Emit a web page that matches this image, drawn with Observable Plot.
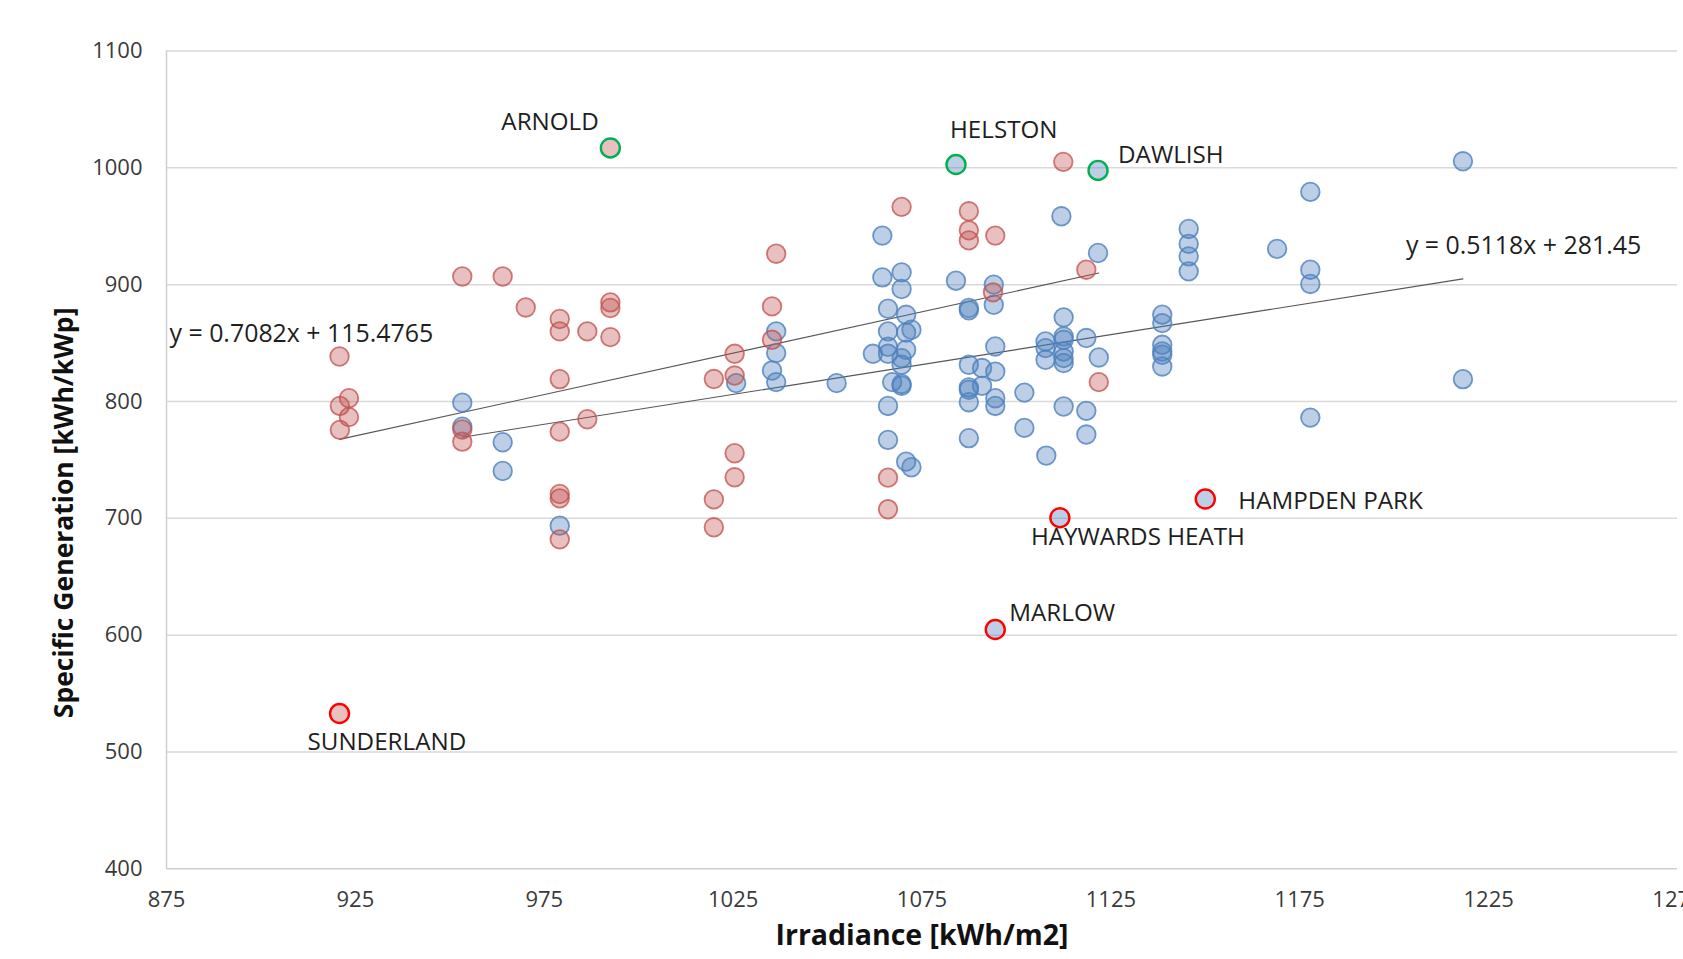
<!DOCTYPE html>
<html>
<head>
<meta charset="utf-8">
<script src="https://cdn.jsdelivr.net/npm/d3@7"></script>
<script src="https://cdn.jsdelivr.net/npm/@observablehq/plot@0.6"></script>
<style>
  html, body { margin: 0; padding: 0; background: #ffffff; overflow: hidden; }
  #chart svg { display: block; }
</style>
</head>
<body>
<div id="chart"></div>
<script>
// ---- Data ----
const xTicks = [875, 925, 975, 1025, 1075, 1125, 1175, 1225, 1275];
const yTicks = [400, 500, 600, 700, 800, 900, 1000, 1100];

// Red series: irradiance / specific generation
const redIrr = [953.3, 964, 970.1, 979.1, 979.1, 986.4, 992.5, 992.5, 992.5, 920.8,
  923.3, 920.9, 923.3, 920.9, 953.3, 953.3, 979.1, 986.4, 979.1, 979.1,
  979.1, 979.1, 1019.9, 1019.9, 1019.9, 1069.6, 1087.4, 1087.4, 1087.4, 1094.4,
  1112.4, 1036.4, 1118.5, 1093.8, 1035.3, 1035.3, 1025.4, 1025.4, 1066, 1066,
  1025.4, 1025.4, 1121.8];
const redGen = [907, 907, 880.5, 870.6, 860, 860, 884.8, 880, 855.1, 838.5,
  802.8, 796.2, 786.6, 775.7, 776, 765.6, 819.1, 784.8, 774.2, 720.8,
  717.1, 682, 819.2, 716.2, 692.3, 966.6, 962.8, 946.5, 937.9, 942,
  1005.1, 926.5, 912.8, 893.4, 881.4, 852.8, 840.8, 822.2, 734.8, 707.7,
  755.7, 735.1, 816.6];

// Blue series
const blueIrr = [953.3, 953.3, 964, 964, 979.1, 1111.9, 1064.5, 1121.6, 1064.5, 1069.6,
  1069.6, 1084, 1094, 1094, 1087.4, 1087.4, 1036.4, 1036.4, 1035.3, 1036.4,
  1025.8, 1052.4, 1066, 1070.8, 1066, 1070.8, 1072.2, 1062, 1066, 1066,
  1070.8, 1069.6, 1069.6, 1067.1, 1069.6, 1069.6, 1066, 1066, 1070.8, 1072.2,
  1087.4, 1090.9, 1094.4, 1094.4, 1087.4, 1087.4, 1090.9, 1087.4, 1094.4, 1094.4,
  1087.4, 1102.1, 1102.1, 1107.9, 1107.7, 1107.7, 1107.7, 1112.5, 1112.5, 1112.5,
  1112.5, 1112.5, 1112.5, 1118.5, 1121.8, 1112.5, 1118.5, 1118.5, 1145.6, 1145.6,
  1145.6, 1145.6, 1138.6, 1138.6, 1138.6, 1138.6, 1138.6, 1138.6, 1169, 1177.8,
  1177.8, 1177.8, 1177.8, 1218.2, 1218.2];
const blueGen = [799, 778.5, 765.1, 740.5, 693.7, 958.5, 942, 927.1, 906.2, 910.5,
  896.3, 903.4, 900, 882.8, 880, 878, 860, 841.4, 826.5, 816.6,
  815.7, 815.7, 879.4, 874.2, 860, 859.1, 861.4, 840.8, 846.8, 840.8,
  844.3, 837.1, 831.4, 816.6, 815, 813.5, 796.2, 767.1, 748.5, 743.7,
  831.4, 828.6, 825.6, 847.1, 812, 810, 813.4, 799.4, 802.8, 796.2,
  768.6, 807.6, 777.4, 753.7, 851.4, 845.7, 835.7, 872, 855.6, 852.8,
  842.8, 837.1, 832.9, 854.3, 837.7, 795.7, 792, 771.7, 947.7, 934.9,
  924.2, 911.4, 874.3, 867.1, 848.5, 842.8, 840, 830, 930.6, 979.4,
  912.8, 900.6, 786.2, 1005.6, 819.1];

// Named sites (highlighted points)
const siteNames = ["ARNOLD", "HELSTON", "DAWLISH", "HAMPDEN PARK", "HAYWARDS HEATH", "MARLOW", "SUNDERLAND"];
const siteIrr = [992.5, 1084, 1121.6, 1150, 1111.5, 1094.4, 920.8];
const siteGen = [1017, 1002.8, 997.8, 716.5, 700.5, 604.8, 532.9];
const siteSeries = ["red", "blue", "blue", "blue", "blue", "blue", "red"];
const siteFlag = ["high", "high", "high", "low", "low", "low", "low"];

// Trend lines (as printed on the chart)
const trendSeries = ["red", "blue"];
const trendSlope = [0.7082, 0.5118];
const trendIntercept = [115.4765, 281.45];
const trendText = ["y = 0.7082x + 115.4765", "y = 0.5118x + 281.45"];

const xTitle = "Irradiance [kWh/m2]";
const yTitle = "Specific Generation [kWh/kWp]";

// ---- Build tables ----
const seriesColor = {red: "#c0504d", blue: "#4f81bd"};
const seriesFillOpacity = {red: 0.36, blue: 0.38};
const flagColor = {high: "#00b050", low: "#ff0000"};
const red = redIrr.map((x, i) => ({x, y: redGen[i]}));
const blue = blueIrr.map((x, i) => ({x, y: blueGen[i]}));
const sites = siteNames.map((name, i) => ({name, x: siteIrr[i], y: siteGen[i], series: siteSeries[i], flag: siteFlag[i]}));

const allBySeries = {
  red: redIrr.concat(siteIrr.filter((_, i) => siteSeries[i] === "red")),
  blue: blueIrr.concat(siteIrr.filter((_, i) => siteSeries[i] === "blue"))
};
const trends = trendSeries.map((s, i) => {
  const x0 = d3.min(allBySeries[s]), x1 = d3.max(allBySeries[s]);
  return [
    {x: x0, y: trendSlope[i] * x0 + trendIntercept[i], k: s},
    {x: x1, y: trendSlope[i] * x1 + trendIntercept[i], k: s}
  ];
});

// label offsets (styling, pixels)
const labelOffset = {
  "ARNOLD": [-109, -26],
  "HELSTON": [-6, -34],
  "DAWLISH": [20, -15],
  "HAMPDEN PARK": [33, 2],
  "HAYWARDS HEATH": [-29, 20],
  "MARLOW": [14, -16],
  "SUNDERLAND": [-32, 29]
};

const labelColor = "#1e1e1e";

const siteLabelMarks = sites.map(s => Plot.text([s], {
  x: "x", y: "y", text: "name",
  dx: labelOffset[s.name][0], dy: labelOffset[s.name][1],
  textAnchor: "start", fontSize: 24.2, fill: labelColor
}));

const chart = Plot.plot({
  width: 1683,
  height: 959,
  marginLeft: 166,
  marginRight: 6,
  marginTop: 50.5,
  marginBottom: 90.7,
  style: {fontFamily: "'Open Sans', sans-serif", fontSize: "22px", color: "#3a3a3a", background: "#ffffff", overflow: "hidden"},
  x: {domain: [875, 1275], ticks: xTicks, tickSize: 0, tickPadding: 23, tickFormat: "d", label: null},
  y: {domain: [400, 1100], ticks: yTicks, tickSize: 0, tickPadding: 24, tickFormat: "d", label: null},
  marks: [
    Plot.ruleY(yTicks.filter(v => v > 400), {stroke: "#d9d9d9", strokeWidth: 1.5}),
    Plot.ruleY([400], {stroke: "#cfcfcf", strokeWidth: 1.5}),
    Plot.ruleX([875], {stroke: "#cfcfcf", strokeWidth: 1.5}),
    ...trends.map(t => Plot.line(t, {x: "x", y: "y", stroke: "#555555", strokeWidth: 1.1})),
    Plot.dot(blue, {x: "x", y: "y", r: 9.3, fill: seriesColor.blue, fillOpacity: seriesFillOpacity.blue, stroke: seriesColor.blue, strokeOpacity: 0.8, strokeWidth: 1.8}),
    Plot.dot(red, {x: "x", y: "y", r: 9.3, fill: seriesColor.red, fillOpacity: seriesFillOpacity.red, stroke: seriesColor.red, strokeOpacity: 0.75, strokeWidth: 1.8}),
    Plot.dot(sites, {x: "x", y: "y", r: 9.5, fill: d => seriesColor[d.series], fillOpacity: d => seriesFillOpacity[d.series], stroke: d => flagColor[d.flag], strokeWidth: 2.4}),
    ...siteLabelMarks,
    Plot.text([trends[0][0]], {x: "x", y: "y", text: () => trendText[0], dx: -170, dy: -105, textAnchor: "start", fontSize: 24.9, fill: labelColor}),
    Plot.text([trends[1][1]], {x: "x", y: "y", text: () => trendText[1], dx: -57, dy: -33, textAnchor: "start", fontSize: 24.9, fill: labelColor}),
    Plot.text([xTitle], {text: d => d, frameAnchor: "bottom", textAnchor: "middle", lineAnchor: "middle", dy: 67, fontSize: 28.5, fontWeight: "bold", fill: "#111111"}),
    Plot.text([yTitle], {text: d => d, frameAnchor: "left", textAnchor: "middle", lineAnchor: "middle", dx: -102, dy: 53, rotate: -90, fontSize: 26.5, fontWeight: "bold", fill: "#111111"})
  ]
});
document.getElementById("chart").appendChild(chart);
</script>
</body>
</html>
